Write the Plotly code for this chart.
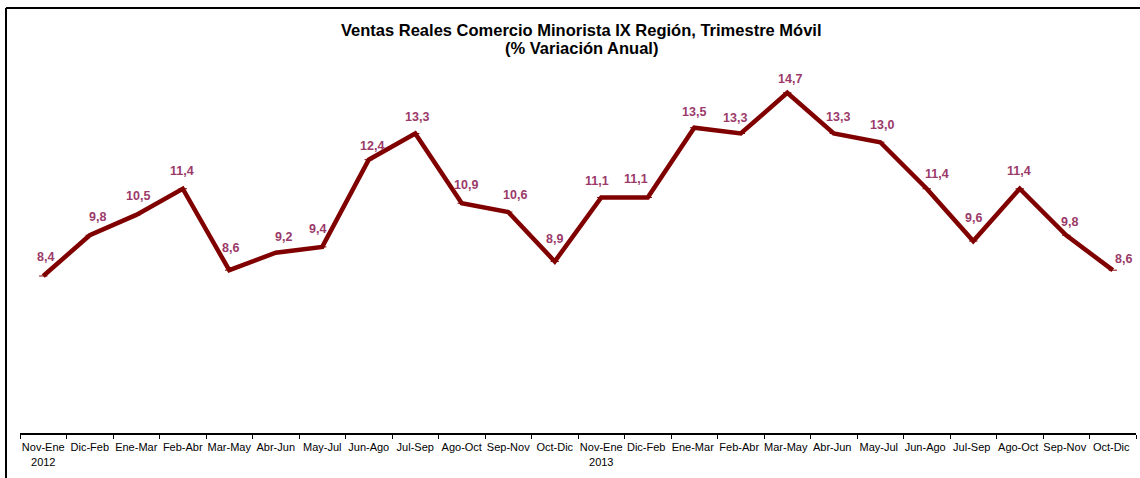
import plotly.graph_objects as go

categories = ["Nov-Ene<br>2012", "Dic-Feb", "Ene-Mar", "Feb-Abr", "Mar-May", "Abr-Jun", "May-Jul",
              "Jun-Ago", "Jul-Sep", "Ago-Oct", "Sep-Nov", "Oct-Dic",
              "Nov-Ene<br>2013", "Dic-Feb ", "Ene-Mar ", "Feb-Abr ", "Mar-May ", "Abr-Jun ", "May-Jul ",
              "Jun-Ago ", "Jul-Sep ", "Ago-Oct ", "Sep-Nov ", "Oct-Dic "]
values = [8.4, 9.8, 10.5, 11.4, 8.6, 9.2, 9.4, 12.4, 13.3, 10.9, 10.6, 8.9,
          11.1, 11.1, 13.5, 13.3, 14.7, 13.3, 13.0, 11.4, 9.6, 11.4, 9.8, 8.6]
labels = [f"{v:.1f}".replace(".", ",") for v in values]
title_line1 = "Ventas Reales Comercio Minorista IX Región, Trimestre Móvil"
title_line2 = "(% Variación Anual)"

# data-label placement offsets in pixels (dx, dy up), styling only
label_offsets = [(2, 19), (8, 18), (2, 19), (-1, 18), (1, 22), (8, 16), (-5, 18), (3, 14),
                 (2, 17), (4, 18), (7, 17), (0, 22), (-4, 16), (-12, 18), (0, 16), (-6, 16),
                 (3, 14), (4, 17), (2, 17), (10, 15), (0, 23), (-1, 18), (3, 13), (11, 11)]

fig = go.Figure()
fig.add_trace(go.Scatter(
    x=categories, y=values, mode="lines+markers",
    line=dict(color="#800000", width=4.5),
    marker=dict(symbol="line-ew", size=6, color="#800000", line=dict(color="#800000", width=1)),
    cliponaxis=False, hoverinfo="skip", showlegend=False,
))

L, R, T, B = 20, 4, 55, 45
W, H = 1140, 478
pw, ph = W - L - R, H - T - B

def px(x):
    return (x - L) / pw

def py(y):
    return (H - B - y) / ph

label_font = dict(family="Liberation Sans, Arial, sans-serif", size=12.5, color="#9B3A6A", weight="bold")
annotations = []
for c, v, t, (dx, dy) in zip(categories, values, labels, label_offsets):
    annotations.append(dict(
        x=c, y=v, xref="x", yref="y", text=t, showarrow=False,
        font=label_font, xanchor="center", yanchor="middle",
        xshift=dx, yshift=dy,
    ))

title_font = dict(family="Liberation Sans, Arial, sans-serif", size=16.5, color="black", weight="bold")
annotations.append(dict(x=px(581), y=py(30), xref="paper", yref="paper", text=title_line1,
                        showarrow=False, font=title_font, xanchor="center", yanchor="middle"))
annotations.append(dict(x=px(581), y=py(48), xref="paper", yref="paper", text=title_line2,
                        showarrow=False, font=title_font, xanchor="center", yanchor="middle"))

fig.update_layout(
    width=W, height=H,
    margin=dict(l=L, r=R, t=T, b=B),
    paper_bgcolor="white", plot_bgcolor="white",
    font=dict(family="Liberation Sans, Arial, sans-serif", color="black"),
    xaxis=dict(
        type="category", categoryorder="array", categoryarray=categories,
        range=[-0.5, len(values) - 0.5],
        tickson="boundaries", tickangle=0,
        showline=True, linecolor="black", linewidth=2,
        ticks="outside", ticklen=4, tickcolor="black", tickwidth=1,
        ticklabelstandoff=3,
        showgrid=False, zeroline=False,
        tickfont=dict(size=11, color="black"),
    ),
    yaxis=dict(range=[3, 16], visible=False, showgrid=False, zeroline=False),
    annotations=annotations,
    shapes=[
        dict(type="line", xref="paper", yref="paper", x0=px(6), x1=px(W + 5), y0=py(8), y1=py(8),
             line=dict(color="black", width=2)),
        dict(type="line", xref="paper", yref="paper", x0=px(6), x1=px(6), y0=py(8), y1=py(H + 5),
             line=dict(color="black", width=2)),
    ],
)

fig.write_html("out.html", config={"displayModeBar": False},
               post_script="document.body.style.margin='0';document.body.style.overflow='hidden';")
